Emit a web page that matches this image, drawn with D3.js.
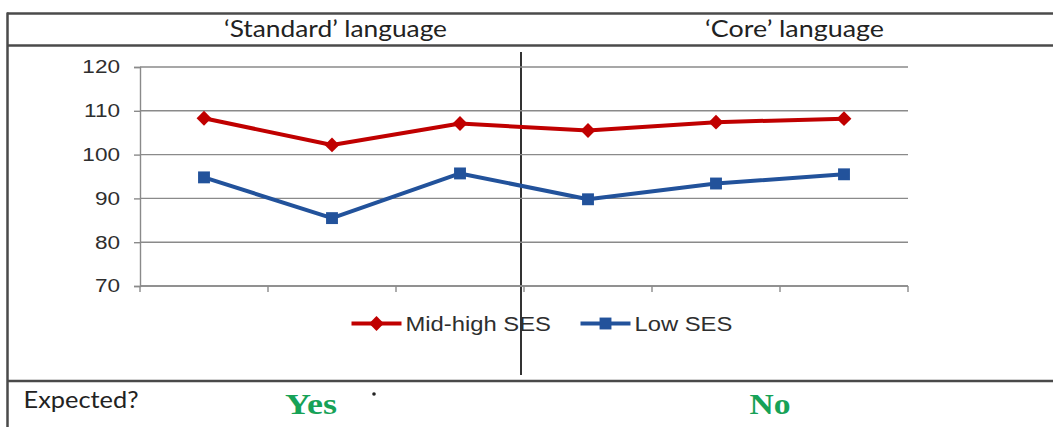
<!DOCTYPE html>
<html>
<head>
<meta charset="utf-8">
<script src="https://cdn.jsdelivr.net/npm/d3@7"></script>
<style>
  html, body { margin: 0; padding: 0; background: #fff; }
  svg { display: block; }
</style>
</head>
<body>
<svg id="chart" width="1053" height="427"></svg>
<script>
// Scores by task, three 'standard' language measures then three 'core' ones
const categories = ["S1", "S2", "S3", "C1", "C2", "C3"];
const midHighSES = [108.3, 102.2, 107.1, 105.5, 107.4, 108.2];
const lowSES = [94.8, 85.5, 95.7, 89.8, 93.4, 95.5];
const yTicks = [70, 80, 90, 100, 110, 120];
const seriesNames = ["Mid-high SES", "Low SES"];
const sectionHeaders = ["\u2018Standard\u2019 language", "\u2018Core\u2019 language"];
const rowLabel = "Expected?";
const expectedAnswers = ["Yes", "No"];

const svg = d3.select("#chart");
const W = 1053, H = 427;

// Plot area
const plot = { left: 140, right: 908, top: 67, bottom: 286 };

const x = d3.scaleBand().domain(categories).range([plot.left, plot.right]).padding(0);
const y = d3.scaleLinear().domain([70, 120]).range([plot.bottom, plot.top]);

const gridColor = "#8a8a8a";
const textColor = "#2e2e2e";
const tableColor = "#4a4a4a";
const red = "#c00000";
const blue = "#22529b";
const green = "#17a257";

// Text helper: anchor at (tx, ty), stretched horizontally by sx
function label(g, tx, ty, str, o) {
  const t = g.append("text")
    .attr("transform", `translate(${tx},${ty}) scale(${o.sx || 1},1)`)
    .attr("text-anchor", o.anchor || "start")
    .attr("font-family", o.family)
    .attr("font-size", o.size)
    .attr("font-weight", o.weight || "normal")
    .attr("fill", o.fill || textColor)
    .text(str);
  if (o.dy) t.attr("dy", o.dy);
  if (o.len) t.attr("textLength", o.len).attr("lengthAdjust", "spacingAndGlyphs");
  return t;
}

// ---- table frame ----
const frame = svg.append("g").attr("stroke", tableColor).attr("stroke-width", 2.5);
frame.append("line").attr("x1", 7).attr("x2", W).attr("y1", 13.5).attr("y2", 13.5);
frame.append("line").attr("x1", 7).attr("x2", W).attr("y1", 45.5).attr("y2", 45.5);
frame.append("line").attr("x1", 7).attr("x2", W).attr("y1", 381).attr("y2", 381);
frame.append("line").attr("x1", 7.5).attr("x2", 7.5).attr("y1", 12.5).attr("y2", H);

// Section divider
svg.append("line")
  .attr("x1", 521).attr("x2", 521).attr("y1", 52).attr("y2", 375)
  .attr("stroke", "#333").attr("stroke-width", 2);

// ---- header cells ----
const headerCenters = [335.5, 794.5];
const headerWidths = [223, 179];
sectionHeaders.forEach((h, i) => {
  label(svg, headerCenters[i], 36.5, h, {
    anchor: "middle", family: "Lato, 'Open Sans', sans-serif", size: 23.5,
    fill: "#222", len: headerWidths[i]
  });
});

// ---- gridlines ----
svg.append("g")
  .selectAll("line")
  .data(yTicks)
  .join("line")
  .attr("x1", plot.left).attr("x2", plot.right)
  .attr("y1", d => y(d)).attr("y2", d => y(d))
  .attr("stroke", gridColor).attr("stroke-width", 1.4);

// ---- y axis ----
const yAxis = svg.append("g")
  .attr("transform", `translate(${plot.left},0)`)
  .call(d3.axisLeft(y).tickValues(yTicks).tickSize(6).tickPadding(0).tickFormat(d3.format("d")));
yAxis.select(".domain").attr("stroke", gridColor).attr("stroke-width", 1.4);
yAxis.selectAll(".tick line").attr("stroke", gridColor).attr("stroke-width", 1.4);
yAxis.selectAll(".tick text")
  .attr("x", null)
  .attr("transform", "translate(-20,0) scale(1.22,1)")
  .attr("font-family", "'Liberation Sans', Arial, sans-serif")
  .attr("font-size", 18.5)
  .attr("fill", textColor);

// ---- x axis (category boundaries only) ----
const xAxis = svg.append("g").attr("transform", `translate(0,${plot.bottom})`);
xAxis.append("line")
  .attr("x1", plot.left).attr("x2", plot.right)
  .attr("stroke", gridColor).attr("stroke-width", 1.4);
const boundaries = categories.map(c => x(c)).concat([x(categories[categories.length - 1]) + x.bandwidth()]);
xAxis.selectAll("line.tk")
  .data(boundaries)
  .join("line")
  .attr("class", "tk")
  .attr("x1", d => d).attr("x2", d => d)
  .attr("y1", 0).attr("y2", 6)
  .attr("stroke", gridColor).attr("stroke-width", 1.4);

// ---- series ----
const cx = c => x(c) + x.bandwidth() / 2;
const lineGen = d3.line().x(d => cx(d.c)).y(d => y(d.v));
const diamond = d3.symbol().type(d3.symbolDiamond2).size(140);
const square = d3.symbol().type(d3.symbolSquare2).size(180);

const series = [
  { name: seriesNames[0], values: midHighSES, color: red, marker: diamond },
  { name: seriesNames[1], values: lowSES, color: blue, marker: square }
];

series.forEach(s => {
  const pts = categories.map((c, i) => ({ c, v: s.values[i] }));
  svg.append("path")
    .datum(pts)
    .attr("d", lineGen)
    .attr("fill", "none")
    .attr("stroke", s.color)
    .attr("stroke-width", 4)
    .attr("stroke-linejoin", "round");
  svg.append("g")
    .selectAll("path")
    .data(pts)
    .join("path")
    .attr("transform", d => `translate(${cx(d.c)},${y(d.v)})`)
    .attr("d", s.marker)
    .attr("fill", s.color);
});

// ---- legend ----
const legendY = 323.5;
const legendX = [351.5, 580.5];
series.forEach((s, i) => {
  const g = svg.append("g").attr("transform", `translate(${legendX[i]},${legendY})`);
  g.append("line").attr("x1", 0).attr("x2", 50)
    .attr("stroke", s.color).attr("stroke-width", 4);
  g.append("path").attr("transform", "translate(25,0)").attr("d", s.marker).attr("fill", s.color);
  label(g, 54, 0, s.name, {
    family: "'Liberation Sans', Arial, sans-serif", size: 20, sx: 1.19, dy: "0.36em"
  });
});

// ---- bottom row ----
label(svg, 23.5, 408, rowLabel, {
  family: "Lato, 'Open Sans', sans-serif", size: 23, fill: "#222", len: 115
});
const answerCenters = [311, 770];
const answerWidths = [52, 41];
expectedAnswers.forEach((a, i) => {
  label(svg, answerCenters[i], 413.5, a, {
    anchor: "middle", family: "'Liberation Serif', 'Times New Roman', serif",
    size: 29, weight: "bold", fill: green, len: answerWidths[i]
  });
});
svg.append("circle").attr("cx", 374).attr("cy", 394).attr("r", 1.8).attr("fill", "#222");
</script>
</body>
</html>
